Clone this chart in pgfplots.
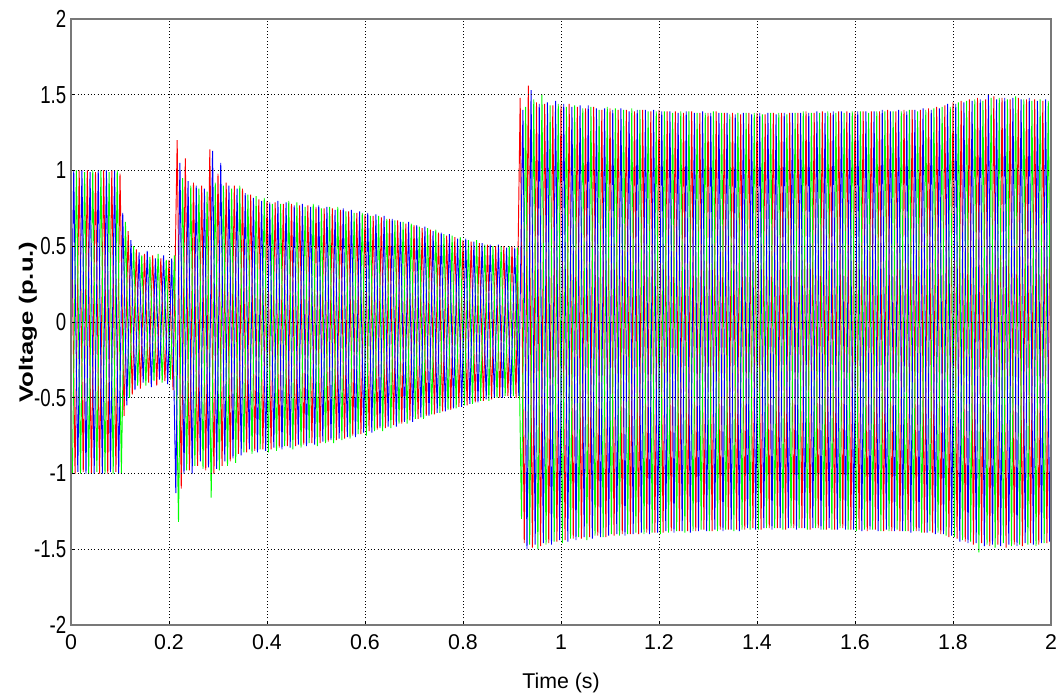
\documentclass[border=0pt]{standalone}
\usepackage{fontspec}
\setmainfont{Liberation Sans}
\usepackage{pgfplots}
\usepackage{pgfplotstable}
\pgfplotsset{compat=1.18}
\definecolor{framegray}{RGB}{120,120,120}
\definecolor{phgreen}{RGB}{0,255,0}

% half-cycle peaks of the three phase voltages (p.u.), 60 Hz
% t = time of the phase-a peak; phases b and c peak 1/180 s and 2/180 s later
\pgfplotstableread{
t a b c
-0.0083 -1.00 -1.00 -1.00
0.0000 1.00 1.00 1.00
0.0083 -1.00 -0.99 -1.00
0.0167 1.00 1.00 0.99
0.0250 -0.99 -1.00 -1.00
0.0333 1.00 0.99 1.00
0.0417 -1.00 -1.00 -0.99
0.0500 0.99 1.00 1.00
0.0583 -1.00 -1.00 -1.00
0.0667 1.00 1.00 0.99
0.0750 -1.00 -0.99 -1.00
0.0833 1.00 1.00 1.00
0.0917 -0.99 -1.00 -1.00
0.1000 0.98 0.72 0.66
0.1083 -0.62 -0.55 -0.50
0.1167 0.60 0.54 0.50
0.1250 -0.48 -0.45 -0.42
0.1333 0.48 0.46 0.44
0.1417 -0.44 -0.40 -0.42
0.1500 0.45 0.47 0.43
0.1583 -0.40 -0.43 -0.39
0.1667 0.44 0.42 0.45
0.1750 -0.42 -0.38 -0.40
0.1833 0.42 0.44 0.41
0.1917 -0.39 -0.41 -0.38
0.2000 0.41 0.42 0.44
0.2083 -0.45 -1.13 -1.32
0.2167 1.20 1.05 0.95
0.2250 -1.10 -1.00 -0.98
0.2333 1.08 0.93 0.90
0.2417 -0.98 -1.00 -0.95
0.2500 0.92 0.90 0.88
0.2583 -0.95 -0.92 -0.97
0.2667 0.90 0.88 0.86
0.2750 -0.98 -0.96 -1.16
0.2833 1.14 1.13 0.92
0.2917 -1.00 -0.97 -0.98
0.3000 0.98 1.05 0.90
0.3083 -0.95 -0.92 -0.95
0.3167 0.92 0.90 0.88
0.3250 -0.92 -0.90 -0.93
0.3333 0.90 0.88 0.90
0.3417 -0.87 -0.88 -0.86
0.3500 0.88 0.85 0.84
0.3583 -0.86 -0.84 -0.87
0.3667 0.84 0.82 0.83
0.3750 -0.85 -0.86 -0.84
0.3833 0.81 0.80 0.82
0.3917 -0.84 -0.85 -0.86
0.4000 0.80 0.79 0.78
0.4083 -0.84 -0.83 -0.85
0.4167 0.79 0.80 0.78
0.4250 -0.83 -0.84 -0.82
0.4333 0.78 0.79 0.80
0.4417 -0.82 -0.83 -0.84
0.4500 0.78 0.77 0.79
0.4583 -0.82 -0.81 -0.83
0.4667 0.77 0.78 0.76
0.4750 -0.81 -0.82 -0.80
0.4833 0.77 0.76 0.78
0.4917 -0.80 -0.81 -0.82
0.5000 0.76 0.77 0.75
0.5083 -0.80 -0.79 -0.80
0.5167 0.75 0.76 0.76
0.5250 -0.79 -0.78 -0.80
0.5333 0.75 0.74 0.76
0.5417 -0.78 -0.77 -0.78
0.5500 0.74 0.75 0.73
0.5583 -0.77 -0.76 -0.77
0.5667 0.73 0.74 0.72
0.5750 -0.75 -0.76 -0.74
0.5833 0.72 0.73 0.72
0.5917 -0.74 -0.73 -0.75
0.6000 0.71 0.72 0.70
0.6083 -0.72 -0.73 -0.72
0.6167 0.70 0.71 0.70
0.6250 -0.71 -0.70 -0.72
0.6333 0.69 0.70 0.68
0.6417 -0.70 -0.69 -0.70
0.6500 0.68 0.68 0.67
0.6583 -0.68 -0.69 -0.67
0.6667 0.67 0.66 0.66
0.6750 -0.67 -0.66 -0.67
0.6833 0.65 0.66 0.65
0.6917 -0.65 -0.66 -0.64
0.7000 0.64 0.64 0.63
0.7083 -0.64 -0.63 -0.64
0.7167 0.62 0.63 0.62
0.7250 -0.62 -0.62 -0.61
0.7333 0.61 0.60 0.61
0.7417 -0.61 -0.60 -0.60
0.7500 0.59 0.59 0.58
0.7583 -0.59 -0.59 -0.58
0.7667 0.57 0.58 0.57
0.7750 -0.58 -0.57 -0.57
0.7833 0.56 0.55 0.56
0.7917 -0.56 -0.56 -0.55
0.8000 0.54 0.55 0.54
0.8083 -0.55 -0.54 -0.54
0.8167 0.53 0.53 0.54
0.8250 -0.53 -0.53 -0.52
0.8333 0.52 0.52 0.51
0.8417 -0.52 -0.51 -0.52
0.8500 0.51 0.51 0.50
0.8583 -0.51 -0.50 -0.50
0.8667 0.50 0.51 0.50
0.8750 -0.50 -0.50 -0.49
0.8833 0.50 0.49 0.50
0.8917 -0.49 -0.50 -0.49
0.9000 0.50 0.49 0.49
0.9083 -0.50 -0.49 -1.30
0.9167 1.48 1.40 1.42
0.9250 -1.46 -1.50 -1.47
0.9333 1.56 1.53 1.47
0.9417 -1.49 -1.47 -1.50
0.9500 1.45 1.44 1.50
0.9583 -1.48 -1.46 -1.47
0.9667 1.44 1.45 1.43
0.9750 -1.46 -1.47 -1.45
0.9833 1.43 1.46 1.44
0.9917 -1.45 -1.44 -1.46
1.0000 1.43 1.44 1.42
1.0083 -1.44 -1.45 -1.43
1.0167 1.44 1.42 1.43
1.0250 -1.43 -1.44 -1.42
1.0333 1.42 1.43 1.41
1.0417 -1.43 -1.42 -1.44
1.0500 1.41 1.43 1.42
1.0583 -1.42 -1.43 -1.41
1.0667 1.42 1.41 1.40
1.0750 -1.41 -1.42 -1.42
1.0833 1.40 1.41 1.42
1.0917 -1.42 -1.41 -1.40
1.1000 1.41 1.40 1.41
1.1083 -1.41 -1.40 -1.41
1.1167 1.40 1.41 1.40
1.1250 -1.40 -1.41 -1.40
1.1333 1.40 1.39 1.41
1.1417 -1.40 -1.40 -1.39
1.1500 1.39 1.40 1.40
1.1583 -1.40 -1.39 -1.40
1.1667 1.40 1.40 1.39
1.1750 -1.39 -1.40 -1.39
1.1833 1.39 1.40 1.39
1.1917 -1.39 -1.39 -1.40
1.2000 1.40 1.39 1.39
1.2083 -1.39 -1.38 -1.39
1.2167 1.39 1.39 1.38
1.2250 -1.38 -1.39 -1.38
1.2333 1.39 1.38 1.39
1.2417 -1.38 -1.38 -1.39
1.2500 1.38 1.39 1.39
1.2583 -1.38 -1.39 -1.38
1.2667 1.39 1.38 1.38
1.2750 -1.38 -1.38 -1.37
1.2833 1.38 1.39 1.38
1.2917 -1.37 -1.38 -1.38
1.3000 1.38 1.38 1.39
1.3083 -1.38 -1.37 -1.38
1.3167 1.39 1.38 1.38
1.3250 -1.37 -1.38 -1.37
1.3333 1.38 1.38 1.37
1.3417 -1.37 -1.37 -1.38
1.3500 1.38 1.37 1.38
1.3583 -1.37 -1.38 -1.37
1.3667 1.37 1.38 1.38
1.3750 -1.37 -1.36 -1.37
1.3833 1.38 1.37 1.38
1.3917 -1.36 -1.37 -1.37
1.4000 1.38 1.38 1.37
1.4083 -1.37 -1.36 -1.36
1.4167 1.37 1.38 1.38
1.4250 -1.36 -1.37 -1.36
1.4333 1.38 1.37 1.38
1.4417 -1.36 -1.36 -1.37
1.4500 1.38 1.38 1.37
1.4583 -1.37 -1.36 -1.36
1.4667 1.38 1.38 1.38
1.4750 -1.36 -1.37 -1.36
1.4833 1.38 1.38 1.39
1.4917 -1.36 -1.36 -1.37
1.5000 1.39 1.38 1.38
1.5083 -1.37 -1.36 -1.36
1.5167 1.38 1.39 1.38
1.5250 -1.36 -1.37 -1.37
1.5333 1.39 1.38 1.39
1.5417 -1.37 -1.36 -1.37
1.5500 1.38 1.39 1.38
1.5583 -1.37 -1.37 -1.36
1.5667 1.39 1.39 1.38
1.5750 -1.36 -1.37 -1.37
1.5833 1.39 1.38 1.39
1.5917 -1.37 -1.37 -1.38
1.6000 1.39 1.39 1.39
1.6083 -1.37 -1.38 -1.37
1.6167 1.39 1.39 1.38
1.6250 -1.38 -1.37 -1.37
1.6333 1.39 1.39 1.39
1.6417 -1.37 -1.38 -1.38
1.6500 1.39 1.40 1.39
1.6583 -1.38 -1.37 -1.38
1.6667 1.40 1.39 1.39
1.6750 -1.38 -1.38 -1.37
1.6833 1.39 1.40 1.39
1.6917 -1.38 -1.38 -1.38
1.7000 1.40 1.39 1.40
1.7083 -1.38 -1.39 -1.38
1.7167 1.40 1.40 1.39
1.7250 -1.38 -1.38 -1.39
1.7333 1.40 1.41 1.40
1.7417 -1.39 -1.39 -1.38
1.7500 1.41 1.40 1.41
1.7583 -1.39 -1.40 -1.39
1.7667 1.42 1.41 1.42
1.7750 -1.40 -1.40 -1.41
1.7833 1.43 1.44 1.42
1.7917 -1.42 -1.41 -1.42
1.8000 1.45 1.44 1.45
1.8083 -1.43 -1.45 -1.44
1.8167 1.46 1.45 1.46
1.8250 -1.45 -1.46 -1.45
1.8333 1.47 1.46 1.47
1.8417 -1.47 -1.46 -1.52
1.8500 1.48 1.47 1.46
1.8583 -1.46 -1.48 -1.47
1.8667 1.47 1.50 1.48
1.8750 -1.48 -1.47 -1.49
1.8833 1.49 1.47 1.48
1.8917 -1.47 -1.48 -1.46
1.9000 1.48 1.48 1.47
1.9083 -1.49 -1.47 -1.48
1.9167 1.47 1.48 1.49
1.9250 -1.47 -1.48 -1.47
1.9333 1.48 1.47 1.47
1.9417 -1.48 -1.46 -1.47
1.9500 1.47 1.48 1.46
1.9583 -1.46 -1.47 -1.48
1.9667 1.47 1.46 1.47
1.9750 -1.47 -1.46 -1.46
1.9833 1.46 1.47 1.46
1.9917 -1.46 -1.45 -1.46
2.0000 1.46 1.46 1.45
}\volt

\begin{document}
\begin{tikzpicture}
\useasboundingbox (-53.25pt,-54.75pt) rectangle (741.75pt,468.75pt);
\begin{axis}[
    scale only axis,
    width=735pt, height=454.5pt,
    xmin=0, xmax=2, ymin=-2, ymax=2,
    xtick={0,0.2,0.4,0.6,0.8,1,1.2,1.4,1.6,1.8,2},
    xticklabels={0,0.2,0.4,0.6,0.8,1,1.2,1.4,1.6,1.8,2},
    ytick={-2,-1.5,-1,-0.5,0,0.5,1,1.5,2},
    yticklabels={-2,-1.5,-1,-0.5,0,0.5,1,1.5,2},
    grid=major,
    major grid style={black, line width=0.6pt, dash pattern=on 0.75pt off 1.75pt},
    axis line style={draw=framegray, line width=1.6pt},
    tick align=inside, tick pos=left,
    major tick length=2.5pt,
    tick style={black, line width=0.6pt},
    axis on top,
    xticklabel style={font=\fontsize{16}{16}\selectfont, yshift=-4pt},
    yticklabel style={font=\fontsize{14}{14}\selectfont, yscale=1.32},
    xlabel={Time (s)},
    xlabel style={font=\fontsize{16}{16}\selectfont, at={(axis description cs:0.5,-0.0957)}, anchor=center},
    ylabel={Voltage (p.u.)},
    ylabel style={font=\bfseries\fontsize{14.5}{14.5}\selectfont, at={(axis description cs:-0.0439,0.5)}, anchor=center, xscale=1.33},
    every axis plot/.append style={line width=0.7pt},
  ]
  \addplot[red, mark=none] table[x=t, y=a] {\volt};
  \addplot[phgreen, mark=none] table[x expr=\thisrow{t}+0.0111, y=c] {\volt};
  \addplot[blue, mark=none] table[x expr=\thisrow{t}+0.0056, y=b] {\volt};
\end{axis}
\end{tikzpicture}
\end{document}
